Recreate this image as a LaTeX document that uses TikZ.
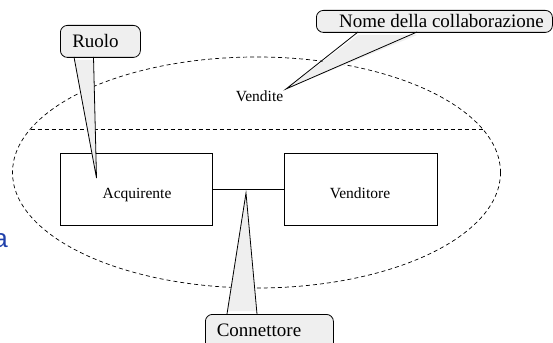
\documentclass[tikz,border=0pt]{standalone}
\usepackage{fontspec}
\setmainfont{Liberation Serif}
\newfontfamily\slidesans{Liberation Sans}
\begin{document}
\begin{tikzpicture}[x=1pt,y=-1pt,
  classbox/.style={draw,line width=0.8pt},
  dashline/.style={line width=0.7pt,dash pattern=on 4pt off 3pt},
  label/.style={inner sep=0pt,font=\fontsize{15.5}{18}\selectfont},
  notebox/.style={draw,line width=0.8pt,fill=notegray,rounded corners=7pt},
  notetext/.style={inner sep=0pt,font=\fontsize{19}{22}\selectfont},
  pointer/.style={draw,line width=0.8pt,fill=notegray,line join=miter}]
\definecolor{notegray}{HTML}{EFEFEF}
\definecolor{slideblue}{RGB}{32,64,170}
\useasboundingbox (0,0) rectangle (553,342);
\clip (0,0) rectangle (553,342);

% collaboration outline and its name compartment
\draw[dashline] (256.5,172.5) ellipse [x radius=244, y radius=115.5];
\coordinate (sepL) at (30.5,129);
\coordinate (sepR) at (482.5,129);
\draw[dashline] (sepL) -- (sepR);
\node[label,anchor=base] (vendite) at (259.5,101) {Vendite};

% roles and the connector between them
\node[classbox,minimum width=152pt,minimum height=72pt,anchor=north west] (acq) at (60,153) {};
\node[label,anchor=base] (acqtext) at (137,198) {Acquirente};
\node[classbox,minimum width=153pt,minimum height=72pt,anchor=north west] (ven) at (284,153) {};
\node[label,anchor=base] (ventext) at (360,198) {Venditore};
\draw[line width=0.8pt] (acq.east) -- (ven.west);
\coordinate (conn) at (246,193);

% partial slide text at the left margin
\node[inner sep=0pt,anchor=base east,text=slideblue,font=\slidesans\fontsize{26}{30}\selectfont] (cut) at (8,247) {a};

% note: Ruolo
\node[notebox,minimum width=80pt,minimum height=32pt,anchor=north west] (ruolo) at (60,25) {};
\node[notetext,anchor=base] (ruolotext) at (95.5,48) {Ruolo};
\coordinate (ruoloTip) at (96.5,178);
\coordinate (ruoloA) at (74,57);
\coordinate (ruoloB) at (93.5,57);
\fill[notegray] ([yshift=-3]ruoloA) -- (ruoloTip) -- ([yshift=-3]ruoloB) -- cycle;
\draw[line width=0.8pt,line join=miter] (ruoloA) -- (ruoloTip) -- (ruoloB);

% note: Nome della collaborazione
\node[notebox,minimum width=236pt,minimum height=22pt,anchor=north west] (nome) at (316,10) {};
\node[notetext,anchor=base] (nometext) at (441.5,28) {Nome della collaborazione};
\coordinate (nomeTip) at (286,89);
\coordinate (nomeA) at (358,32);
\coordinate (nomeB) at (417,32);
\fill[notegray] ([yshift=-3]nomeA) -- (nomeTip) -- ([yshift=-3]nomeB) -- cycle;
\draw[line width=0.8pt,line join=miter] (nomeA) -- (nomeTip) -- (nomeB);

% note: Connettore
\node[notebox,minimum width=128pt,minimum height=45pt,anchor=north west] (connettore) at (205,314) {};
\node[notetext,anchor=base] (conntext) at (259,336.5) {Connettore};
\coordinate (connA) at (227,314);
\coordinate (connB) at (257,314);
\fill[notegray] ([yshift=3]connA) -- (conn) -- ([yshift=3]connB) -- cycle;
\draw[line width=0.8pt,line join=miter] (connA) -- (conn) -- (connB);
\end{tikzpicture}
\end{document}
